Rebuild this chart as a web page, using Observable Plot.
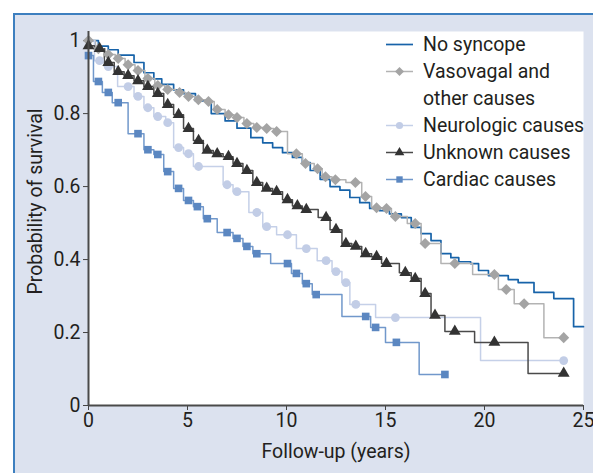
<!DOCTYPE html>
<html>
<head>
<meta charset="utf-8">
<script src="https://cdn.jsdelivr.net/npm/d3@7"></script>
<script src="https://cdn.jsdelivr.net/npm/@observablehq/plot@0.6"></script>
<style>
  body { margin: 0; background: #ffffff; }
  #wrap { position: relative; width: 593px; height: 473px; overflow: hidden; background: #ffffff;
          font-family: "Liberation Sans Narrow", "Roboto", "Liberation Sans", sans-serif; color: #231f20; }
  #panel { position: absolute; left: 13px; top: 13px; right: 0; bottom: 0; background: #dce2ef;
           border-top: 2px solid #3d7fbf; border-left: 2px solid #3d7fbf; }
  #chart { position: absolute; left: 0; top: 0; }
  #legend { position: absolute; left: 386px; top: 31px; font-size: 19.5px; line-height: 27px; }
  .row { display: flex; align-items: flex-start; }
  .row svg { flex: none; margin-right: 10px; }
</style>
</head>
<body>
<div id="wrap">
  <div id="panel"></div>
  <div id="chart"></div>
  <div id="legend"></div>
</div>
<script>
// ---- data (years, survival probability) ----
const xTicks = [0, 5, 10, 15, 20, 25];
const yTicks = [0, 0.2, 0.4, 0.6, 0.8, 1];
const seriesNames = ["No syncope", "Vasovagal and other causes", "Neurologic causes", "Unknown causes", "Cardiac causes"];

// step curves: [time of step, survival from that time on]
const noSyncopeSteps = [[0,1],[0.5,0.985],[1,0.975],[1.5,0.96],[2.3,0.94],[2.8,0.912],[3.3,0.895],[3.7,0.88],[4.3,0.865],[4.8,0.855],[5.4,0.835],[6.2,0.80],[6.9,0.78],[7.5,0.76],[8.2,0.734],[8.8,0.72],[9.3,0.707],[9.8,0.693],[10.3,0.68],[10.8,0.666],[11.2,0.644],[11.7,0.62],[12.2,0.60],[12.7,0.59],[13.2,0.57],[13.7,0.556],[14.2,0.54],[14.7,0.534],[15.2,0.525],[15.8,0.515],[16.3,0.488],[16.8,0.471],[17.3,0.452],[17.8,0.416],[18.3,0.405],[18.7,0.394],[19.3,0.389],[19.7,0.37],[20.2,0.356],[21.2,0.345],[21.7,0.337],[22.5,0.31],[23.5,0.293],[24.5,0.216],[25,0.216]];

const vasovagalSteps = [[0,1],[0.35,0.978],[0.85,0.962],[1.35,0.951],[1.85,0.934],[2.35,0.918],[2.85,0.896],[3.35,0.877],[3.85,0.866],[4.4,0.858],[4.9,0.847],[5.4,0.838],[5.9,0.833],[6.35,0.811],[6.9,0.797],[7.35,0.789],[7.85,0.773],[8.35,0.762],[8.85,0.759],[9.35,0.751],[10.05,0.69],[10.8,0.663],[11.4,0.649],[11.8,0.627],[12.3,0.619],[13.0,0.611],[13.8,0.573],[14.3,0.542],[14.9,0.540],[15.3,0.518],[16.1,0.499],[16.8,0.444],[17.8,0.389],[19.4,0.359],[20.7,0.318],[21.5,0.279],[23.0,0.186],[24.0,0.186]];
const vasovagalMarks = [[0,1],[0.5,0.978],[1.0,0.962],[1.5,0.951],[2.0,0.934],[2.5,0.918],[3.0,0.896],[3.5,0.877],[4.0,0.866],[4.6,0.858],[5.05,0.847],[5.55,0.838],[6.06,0.833],[6.5,0.811],[7.07,0.797],[7.5,0.789],[8.0,0.773],[8.5,0.762],[9.0,0.759],[9.5,0.751],[10.5,0.69],[10.96,0.663],[11.57,0.649],[11.97,0.627],[12.47,0.619],[13.48,0.611],[13.99,0.573],[14.55,0.542],[15.05,0.540],[15.5,0.518],[16.5,0.499],[17.0,0.444],[18.5,0.389],[20.5,0.359],[21.1,0.318],[22.0,0.279],[24.0,0.186]];

const neurologicSteps = [[0,1],[0.3,0.945],[0.8,0.929],[1.47,0.874],[2.3,0.847],[2.8,0.816],[3.3,0.792],[3.9,0.775],[4.3,0.707],[4.8,0.690],[5.3,0.655],[6.8,0.605],[7.3,0.586],[8.1,0.529],[8.8,0.490],[9.5,0.468],[10.5,0.430],[11.55,0.397],[12.3,0.367],[12.8,0.337],[13.2,0.277],[14.5,0.241],[19.8,0.123],[24.0,0.123]];
const neurologicMarks = [[0.56,0.945],[1.0,0.929],[2.0,0.874],[2.5,0.847],[3.0,0.816],[3.5,0.792],[4.0,0.775],[4.55,0.707],[5.05,0.690],[5.56,0.655],[7.0,0.605],[7.5,0.586],[8.5,0.529],[9.0,0.490],[10.05,0.468],[11.0,0.430],[12.0,0.397],[12.5,0.367],[13.0,0.337],[13.5,0.277],[15.5,0.241],[24.0,0.123]];

const unknownSteps = [[0,0.986],[0.3,0.978],[0.8,0.940],[1.3,0.915],[1.8,0.904],[2.3,0.890],[2.8,0.874],[3.3,0.855],[3.8,0.825],[4.3,0.797],[4.8,0.759],[5.3,0.726],[5.8,0.699],[6.3,0.690],[6.8,0.682],[7.3,0.663],[7.8,0.644],[8.3,0.611],[8.8,0.595],[9.3,0.586],[9.8,0.564],[10.3,0.547],[10.8,0.537],[11.6,0.515],[12.2,0.482],[12.8,0.444],[13.3,0.436],[13.8,0.416],[14.3,0.408],[14.8,0.389],[15.7,0.364],[16.3,0.348],[16.8,0.307],[17.3,0.247],[18.0,0.203],[19.5,0.173],[22.2,0.088],[24.0,0.088]];
const unknownMarks = [[0,0.986],[0.56,0.978],[1.0,0.940],[1.5,0.915],[2.0,0.904],[2.5,0.890],[3.0,0.874],[3.5,0.855],[4.0,0.825],[4.55,0.797],[5.05,0.759],[5.56,0.726],[6.0,0.699],[6.5,0.690],[7.07,0.682],[7.5,0.663],[8.0,0.644],[8.5,0.611],[9.0,0.595],[9.5,0.586],[10.05,0.564],[10.55,0.547],[11.0,0.537],[12.0,0.515],[12.5,0.482],[13.0,0.444],[13.5,0.436],[14.0,0.416],[14.55,0.408],[15.05,0.389],[16.0,0.364],[16.5,0.348],[17.0,0.307],[17.5,0.247],[18.5,0.203],[20.5,0.173],[24.0,0.088]];

const cardiacSteps = [[0,0.959],[0.25,0.888],[0.7,0.858],[1.2,0.830],[2.0,0.745],[2.8,0.701],[3.3,0.688],[3.8,0.641],[4.3,0.595],[4.8,0.562],[5.3,0.545],[5.8,0.512],[6.5,0.474],[7.3,0.458],[7.8,0.436],[8.3,0.416],[9.2,0.389],[10.25,0.362],[10.8,0.334],[11.3,0.304],[12.8,0.244],[14.25,0.214],[15.0,0.173],[16.7,0.085],[18.0,0.085]];
const cardiacMarks = [[0,0.959],[0.5,0.888],[1.0,0.858],[1.5,0.830],[2.5,0.745],[3.0,0.701],[3.5,0.688],[4.0,0.641],[4.55,0.595],[5.05,0.562],[5.5,0.545],[6.0,0.512],[7.0,0.474],[7.5,0.458],[8.0,0.436],[8.5,0.416],[10.05,0.389],[10.5,0.362],[11.0,0.334],[11.5,0.304],[14.0,0.244],[14.5,0.214],[15.55,0.173],[18.0,0.085]];

// ---- styling ----
const diamondSymbol = {
  draw(ctx, size) {
    const r = Math.sqrt(size / 2);
    ctx.moveTo(0, -r); ctx.lineTo(r, 0); ctx.lineTo(0, r); ctx.lineTo(-r, 0); ctx.closePath();
  }
};
const series = [
  {name: seriesNames[0], steps: noSyncopeSteps, marks: [], line: "#1763a9", fill: null, symbol: null, r: 0, w: 1.7},
  {name: seriesNames[1], steps: vasovagalSteps, marks: vasovagalMarks, line: "#b3b3b3", fill: "#a4a4a4", symbol: diamondSymbol, r: 4.4, w: 1.5},
  {name: seriesNames[2], steps: neurologicSteps, marks: neurologicMarks, line: "#c5d0e8", fill: "#c2cde6", symbol: "circle", r: 4.4, w: 1.5},
  {name: seriesNames[3], steps: unknownSteps, marks: unknownMarks, line: "#4a4a4a", fill: "#333333", symbol: "triangle", r: 4.4, w: 1.5},
  {name: seriesNames[4], steps: cardiacSteps, marks: cardiacMarks, line: "#7198cb", fill: "#5b87c1", symbol: "square", r: 4.3, w: 1.5}
];

const marks = [
  Plot.frame({fill: "white", stroke: "none"}),
  Plot.axisX({ticks: xTicks, tickSize: 5, tickPadding: 3, label: null, stroke: "#444"}),
  Plot.axisY({ticks: yTicks, tickSize: 5, tickPadding: 3, label: null, tickFormat: d => String(d), stroke: "#444"}),
  Plot.text(["Follow-up (years)"], {frameAnchor: "bottom", textAnchor: "middle", lineAnchor: "middle", dy: 46, fontSize: 19.5, fill: "#231f20"}),
  Plot.text(["Probability of survival"], {frameAnchor: "left", textAnchor: "middle", lineAnchor: "middle", rotate: -90, dx: -53, dy: -17, fontSize: 19.5, fill: "#231f20"})
];
for (const s of series) {
  marks.push(Plot.line(s.steps, {x: d => d[0], y: d => d[1], curve: "step-after", stroke: s.line, strokeWidth: s.w}));
}
for (const s of series) {
  if (s.marks.length) marks.push(Plot.dot(s.marks, {x: d => d[0], y: d => d[1], symbol: s.symbol, r: s.r, fill: s.fill, stroke: "none"}));
}
marks.push(Plot.ruleX([0], {stroke: "#4a4a4a", strokeWidth: 2}));
marks.push(Plot.ruleY([0], {stroke: "#4a4a4a", strokeWidth: 2}));

const chart = Plot.plot({
  width: 593, height: 473,
  marginLeft: 88, marginRight: 10, marginTop: 31, marginBottom: 68,
  x: {domain: [0, 25]},
  y: {domain: [0, 1.025]},
  style: {background: "transparent", fontFamily: '"Liberation Sans Narrow", "Roboto", "Liberation Sans", sans-serif', fontSize: "19.5px", color: "#231f20", overflow: "visible"},
  marks
});
document.getElementById("chart").appendChild(chart);

// ---- legend ----
const legend = document.getElementById("legend");
for (const s of series) {
  const row = document.createElement("div");
  row.className = "row";
  const sw = d3.create("svg").attr("width", 27).attr("height", 27);
  sw.append("line").attr("x1", 0).attr("x2", 27).attr("y1", 13.5).attr("y2", 13.5).attr("stroke", s.line).attr("stroke-width", s.w);
  if (s.symbol) {
    const type = s.symbol === "circle" ? d3.symbolCircle : s.symbol === "triangle" ? d3.symbolTriangle : s.symbol === "square" ? d3.symbolSquare : s.symbol;
    sw.append("path").attr("transform", "translate(13.5,13.5)").attr("fill", s.fill)
      .attr("d", d3.symbol(type, Math.PI * 3.6 * 3.6)());
  }
  row.appendChild(sw.node());
  const label = document.createElement("div");
  label.innerHTML = s.name === "Vasovagal and other causes" ? "Vasovagal and<br>other causes" : s.name;
  row.appendChild(label);
  legend.appendChild(row);
}
</script>
</body>
</html>
